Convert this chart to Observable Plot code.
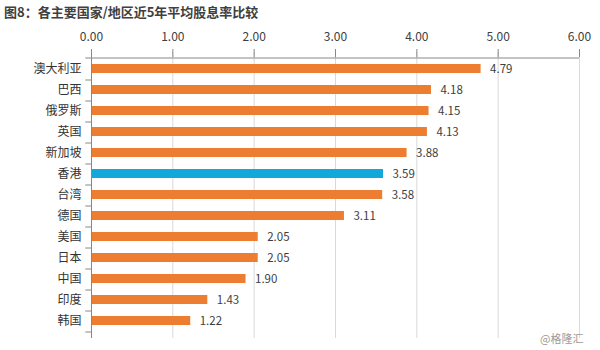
<!DOCTYPE html>
<html>
<head>
<meta charset="utf-8">
<script src="https://cdn.jsdelivr.net/npm/d3@7"></script>
<script src="https://cdn.jsdelivr.net/npm/@observablehq/plot@0.6"></script>
<style>
  html, body { margin: 0; padding: 0; background: #fff; }
  #wrap { position: relative; width: 600px; height: 350px; font-family: "Noto Sans CJK SC", "Noto Sans", sans-serif; }
  #title { position: absolute; left: 4px; top: 2px; font-size: 13px; font-weight: bold; color: #404040; letter-spacing: 0px; }
  #mark { position: absolute; left: 540px; top: 330px; font-size: 11px; color: #9a9a9a; }
  #chart { position: absolute; left: 0; top: 22px; }
</style>
</head>
<body>
<div id="wrap">
  <div id="title">图8：各主要国家/地区近5年平均股息率比较</div>
  <div id="chart"></div>
  <div id="mark">@格隆汇</div>
</div>
<script>
const categories = ["澳大利亚","巴西","俄罗斯","英国","新加坡","香港","台湾","德国","美国","日本","中国","印度","韩国"];
const values = [4.79, 4.18, 4.15, 4.13, 3.88, 3.59, 3.58, 3.11, 2.05, 2.05, 1.90, 1.43, 1.22];
const highlight = "香港";
const xTicks = [0, 1, 2, 3, 4, 5, 6];

const data = categories.map((c, i) => ({name: c, value: values[i]}));
const step = (316 - 30) / categories.length;

const chart = Plot.plot({
  width: 600,
  height: 328,
  marginLeft: 91,
  marginRight: 21,
  marginTop: 30,
  marginBottom: 12,
  style: {fontFamily: "'Noto Sans CJK SC', 'Noto Sans', sans-serif", color: "#404040", background: "#fff"},
  x: {domain: [0, 6], ticks: xTicks, axis: null},
  y: {domain: categories, padding: 0.55, axis: null},
  marks: [
    Plot.gridX(xTicks.slice(1), {stroke: "#d9d9d9", strokeOpacity: 1}),
    Plot.barX(data, {y: "name", x: "value", fill: d => d.name === highlight ? "#12A9DA" : "#ED7D31"}),
    Plot.text(data, {y: "name", x: "value", text: d => d.value.toFixed(2), textAnchor: "start", dx: 9, fontSize: 11.5, fill: "#404040"}),
    // top axis
    Plot.axisX(xTicks, {anchor: "top", tickFormat: d => d.toFixed(2), tickSize: 4, fontSize: 12, stroke: "#888", fill: "#404040", tickPadding: 8, label: null}),
    Plot.axisX(xTicks, {anchor: "top", tickFormat: null, text: null, tickSize: -4, stroke: "#888", label: null}),
    Plot.ruleY([categories[0]], {y: d => d, x1: 0, x2: 6, dy: -step / 2, stroke: "#888"}),
    // left axis
    Plot.axisY({anchor: "left", tickSize: 0, tickPadding: 10, fontSize: 12, fill: "#333", label: null}),
    Plot.ruleX([0], {stroke: "#888"}),
    Plot.ruleY(categories, {y: d => d, x1: -0.07, x2: 0, dy: step / 2, stroke: "#888"}),
    Plot.ruleY([categories[0]], {y: d => d, x1: -0.07, x2: 0, dy: -step / 2, stroke: "#888"})
  ]
});
document.getElementById("chart").appendChild(chart);
</script>
</body>
</html>
